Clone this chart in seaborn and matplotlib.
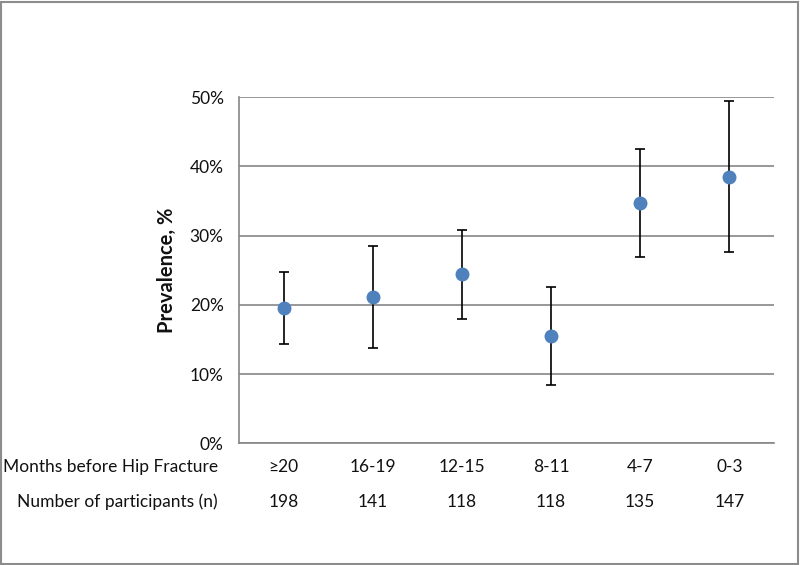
import matplotlib
matplotlib.use("Agg")
import matplotlib.pyplot as plt
import matplotlib.transforms as mtransforms
from matplotlib.patches import Rectangle
import numpy as np
import seaborn as sns

# data
months = ['≥20', '16-19', '12-15', '8-11', '4-7', '0-3']
participants = [198, 141, 118, 118, 135, 147]
prevalence = [19.6, 21.1, 24.4, 15.5, 34.7, 38.5]
ci_low = [14.3, 13.8, 18.0, 8.4, 26.9, 27.6]
ci_high = [24.8, 28.5, 30.8, 22.6, 42.5, 49.4]

sns.set_style("white")
plt.rcParams['font.family'] = ['Lato', 'DejaVu Sans']

fig = plt.figure(figsize=(8, 5.65), dpi=100)
ax = fig.add_axes([0.29875, 0.2154, 0.66875, 0.6124])

grid_col = '#868686'
blue = '#4F81BD'
txt = '#111111'
fs = 12.5

x = np.arange(len(months))
yerr = [np.array(prevalence) - np.array(ci_low), np.array(ci_high) - np.array(prevalence)]
ax.errorbar(x, prevalence, yerr=yerr, fmt='none', ecolor='black', elinewidth=1.2,
            capsize=3.6, capthick=1.2, zorder=2)
sns.pointplot(x=months, y=prevalence, linestyle='none', errorbar=None, color=blue,
              markersize=8, ax=ax, zorder=3)

ax.set_xlim(-0.5, len(months) - 0.5)
ax.set_ylim(0, 50)
ax.set_yticks([0, 10, 20, 30, 40, 50])
ax.set_yticklabels([f'{v}%' for v in [0, 10, 20, 30, 40, 50]], fontsize=fs, color=txt)
ax.yaxis.grid(True, color=grid_col, linewidth=1.2)
ax.set_axisbelow(True)

ax.set_xticks(x)
ax.set_xticklabels([])
ax.tick_params(axis='x', which='major', length=0)
ax.set_xticks(np.arange(len(months) + 1) - 0.5, minor=True)
ax.tick_params(axis='x', which='minor', length=5, width=1.2, color=grid_col, direction='out')
ax.tick_params(axis='y', length=5, width=1.2, color=grid_col, direction='out', pad=6)

for side in ['top', 'right']:
    ax.spines[side].set_visible(False)
for side in ['left', 'bottom']:
    ax.spines[side].set_color(grid_col)
    ax.spines[side].set_linewidth(1.2)

ax.set_xlabel('')
ax.set_ylabel('Prevalence, %', fontsize=14.5, fontweight='bold', labelpad=9, color=txt)

trans = mtransforms.blended_transform_factory(ax.transData, fig.transFigure)
row1_y = 1 - 467 / 565
row2_y = 1 - 502 / 565
for i, (m, n) in enumerate(zip(months, participants)):
    ax.text(i, row1_y, m, transform=trans, ha='center', va='center', fontsize=fs, color=txt)
    ax.text(i, row2_y, str(n), transform=trans, ha='center', va='center', fontsize=fs, color=txt)
fig.text(218 / 800, row1_y, 'Months before Hip Fracture', ha='right', va='center', fontsize=fs, color=txt)
fig.text(218 / 800, row2_y, 'Number of participants (n)', ha='right', va='center', fontsize=fs, color=txt)

fig.patches.append(Rectangle((0.001, 0.002), 0.997, 0.995, transform=fig.transFigure,
                             fill=False, edgecolor='#8c8c8c', linewidth=1.5))

fig.savefig('out.png', dpi=100)
